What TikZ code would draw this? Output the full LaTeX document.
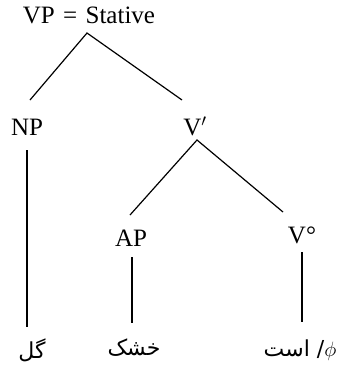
\documentclass[tikz,border=0pt]{standalone}
\usepackage{fontspec}
\setmainfont{Liberation Serif}
\newfontfamily\arabicfont[Script=Arabic]{DejaVu Sans}
\TeXXeTstate=1
\begin{document}
\begin{tikzpicture}[x=1pt,y=-1pt,
  lab/.style={inner sep=0pt,font=\fontsize{25}{28}\selectfont},
  fa/.style={inner sep=0pt,font=\arabicfont\fontsize{22}{24}\selectfont},
  branch/.style={line width=1.2pt}]
\useasboundingbox (0,0) rectangle (337,367);
% labels
\node[lab] (root) at (89,15) {VP\,\,=\,\,Stative};
\node[lab] (np) at (27,127) {NP};
\node[lab] (vbar) at (195,126) {V$'$};
\node[lab] (ap) at (131,238) {AP};
\node[lab] (vzero) at (302,235) {V°};
\node[fa] (gol) at (32,350) {\beginR گل\endR};
\node[fa] (khoshk) at (134,348) {\beginR خشک\endR};
\node[fa] (ast) at (300,350) {\beginR است\endR\ /{\fontsize{22}{24}\selectfont$\phi$}};
% connector end points
\coordinate (rootb) at (87,33);
\coordinate (npt) at (30,100);
\coordinate (vbart) at (182,100);
\coordinate (vbarb) at (197,140);
\coordinate (apt) at (130,215);
\coordinate (vzerot) at (283,212);
\coordinate (npb) at (27,150);
\coordinate (golt) at (27,327);
\coordinate (apb) at (132,257);
\coordinate (khoshkt) at (132,323);
\coordinate (vzerob) at (302,252);
\coordinate (astt) at (302,322);
% connectors
\draw[branch] (npt) -- (rootb) -- (vbart);
\draw[branch] (apt) -- (vbarb) -- (vzerot);
\draw[branch] (npb) -- (golt);
\draw[branch] (apb) -- (khoshkt);
\draw[branch] (vzerob) -- (astt);
\end{tikzpicture}
\end{document}
